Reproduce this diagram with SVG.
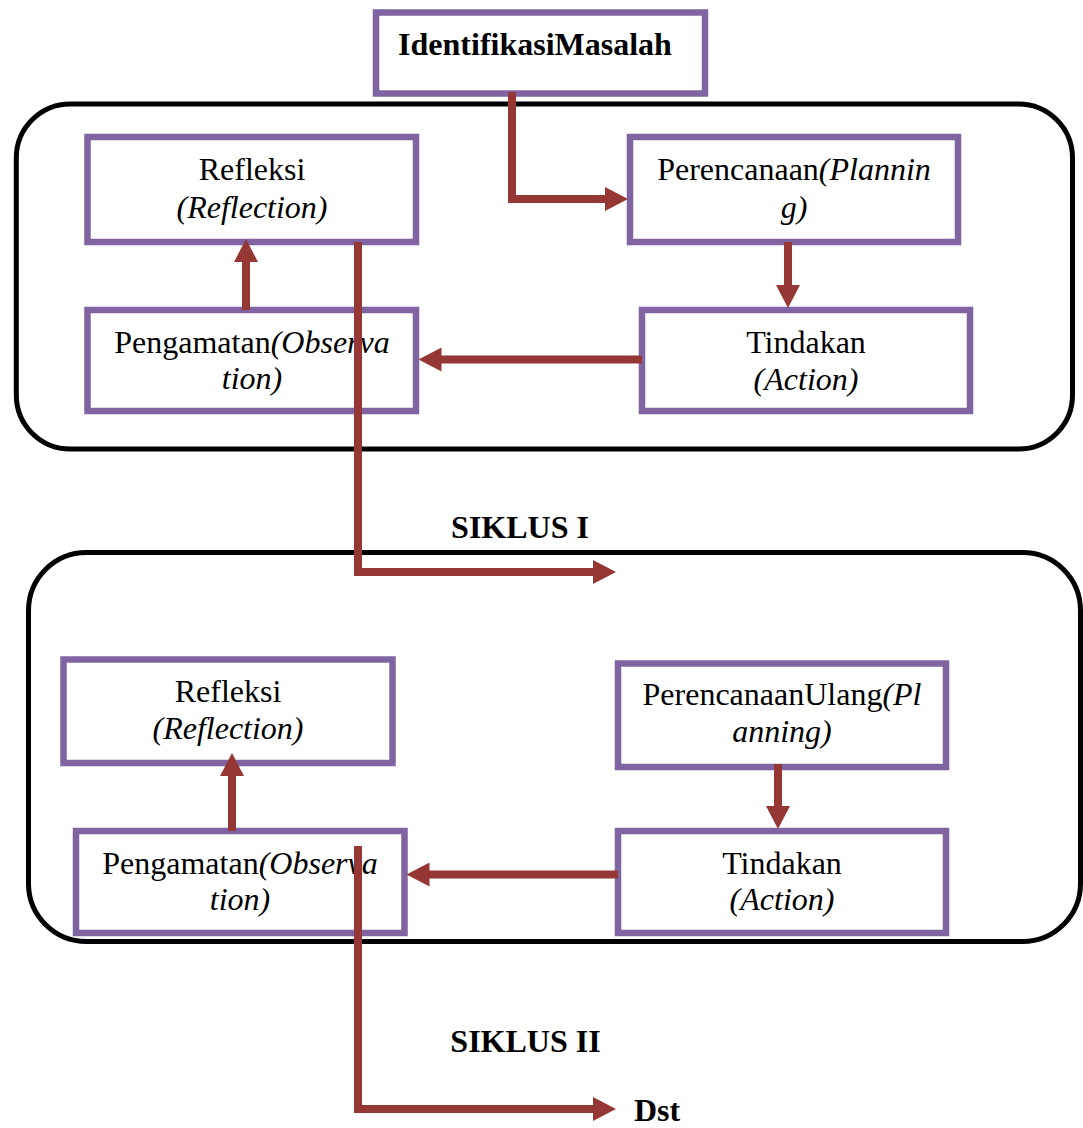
<svg xmlns="http://www.w3.org/2000/svg" width="1083" height="1128" viewBox="0 0 1083 1128">
<style>
.cyc{fill:none;stroke:#000;stroke-width:5}
.box{fill:#fff;stroke:#8064A2;stroke-width:6.5}
.t{font-size:32px;fill:#000;text-anchor:middle}
.b{font-weight:bold}
.i{font-style:italic}
.con{fill:none;stroke:#953735;stroke-width:8;stroke-linejoin:miter;stroke-linecap:butt}
</style>
<defs>
<marker id="ah" markerUnits="userSpaceOnUse" markerWidth="24" markerHeight="24" refX="1" refY="12" orient="auto" viewBox="0 0 24 24">
<path d="M0,0 L23,12 L0,24 Z" fill="#953735"/>
</marker>
</defs>
<rect width="1083" height="1128" fill="#fff"/>
<g id="cycle1"><rect class="cyc" x="16.3" y="104" width="1056.2" height="345" rx="54" ry="54"/></g>
<g id="cycle2"><rect class="cyc" x="28.5" y="552.5" width="1052" height="389" rx="58" ry="58"/></g>
<g font-family="'Liberation Serif', 'Times New Roman', 'DejaVu Serif', serif">
<g id="identifikasi">
<rect class="box" x="376" y="12.5" width="329" height="81"/>
<text class="t b" x="535" y="55">IdentifikasiMasalah</text>
</g>
<g id="refleksi1">
<rect class="box" x="87.5" y="137" width="328.5" height="105"/>
<text class="t" x="252" y="180">Refleksi</text>
<text class="t i" x="252" y="217.5">(Reflection)</text>
</g>
<g id="perencanaan1">
<rect class="box" x="630" y="137" width="328" height="105"/>
<text class="t" x="794" y="180">Perencanaan<tspan class="i">(Plannin</tspan></text>
<text class="t i" x="794" y="218">g)</text>
</g>
<g id="pengamatan1">
<rect class="box" x="87.5" y="310" width="328.5" height="101"/>
<text class="t" x="252" y="352.5">Pengamatan<tspan class="i">(Observa</tspan></text>
<text class="t i" x="252" y="389">tion)</text>
</g>
<g id="tindakan1">
<rect class="box" x="642" y="310" width="328" height="101"/>
<text class="t" x="806" y="352.5">Tindakan</text>
<text class="t i" x="806" y="389.5">(Action)</text>
</g>
<g id="refleksi2">
<rect class="box" x="63.5" y="659.5" width="329" height="103.5"/>
<text class="t" x="228" y="702">Refleksi</text>
<text class="t i" x="228" y="739">(Reflection)</text>
</g>
<g id="perencanaan2">
<rect class="box" x="618" y="663.5" width="328" height="103.5"/>
<text class="t" x="782" y="705">PerencanaanUlang<tspan class="i">(Pl</tspan></text>
<text class="t i" x="782" y="742">anning)</text>
</g>
<g id="pengamatan2">
<rect class="box" x="76" y="831" width="328.5" height="102"/>
<text class="t" x="240" y="873.5">Pengamatan<tspan class="i">(Observa</tspan></text>
<text class="t i" x="240" y="910">tion)</text>
</g>
<g id="tindakan2">
<rect class="box" x="618" y="831" width="328" height="102"/>
<text class="t" x="782" y="873.5">Tindakan</text>
<text class="t i" x="782" y="910">(Action)</text>
</g>
<g id="labels">
<text class="t b" x="520" y="538">SIKLUS I</text>
<text class="t b" x="525.5" y="1051.5">SIKLUS II</text>
<text class="t b" x="634" y="1121" style="text-anchor:start">Dst</text>
</g>
</g>
<g id="connectors">
<path class="con" d="M512,92 V199 H606" marker-end="url(#ah)"/>
<path class="con" d="M788,242 V286" marker-end="url(#ah)"/>
<path class="con" d="M642,359.5 H440.5" marker-end="url(#ah)"/>
<path class="con" d="M246,310 V261" marker-end="url(#ah)"/>
<path class="con" d="M358,242 V572 H594" marker-end="url(#ah)"/>
<path class="con" d="M778,764 V807" marker-end="url(#ah)"/>
<path class="con" d="M618,874.5 H428.5" marker-end="url(#ah)"/>
<path class="con" d="M232,831 V775" marker-end="url(#ah)"/>
<path class="con" d="M358,846 V1109 H594" marker-end="url(#ah)"/>
</g>
</svg>
